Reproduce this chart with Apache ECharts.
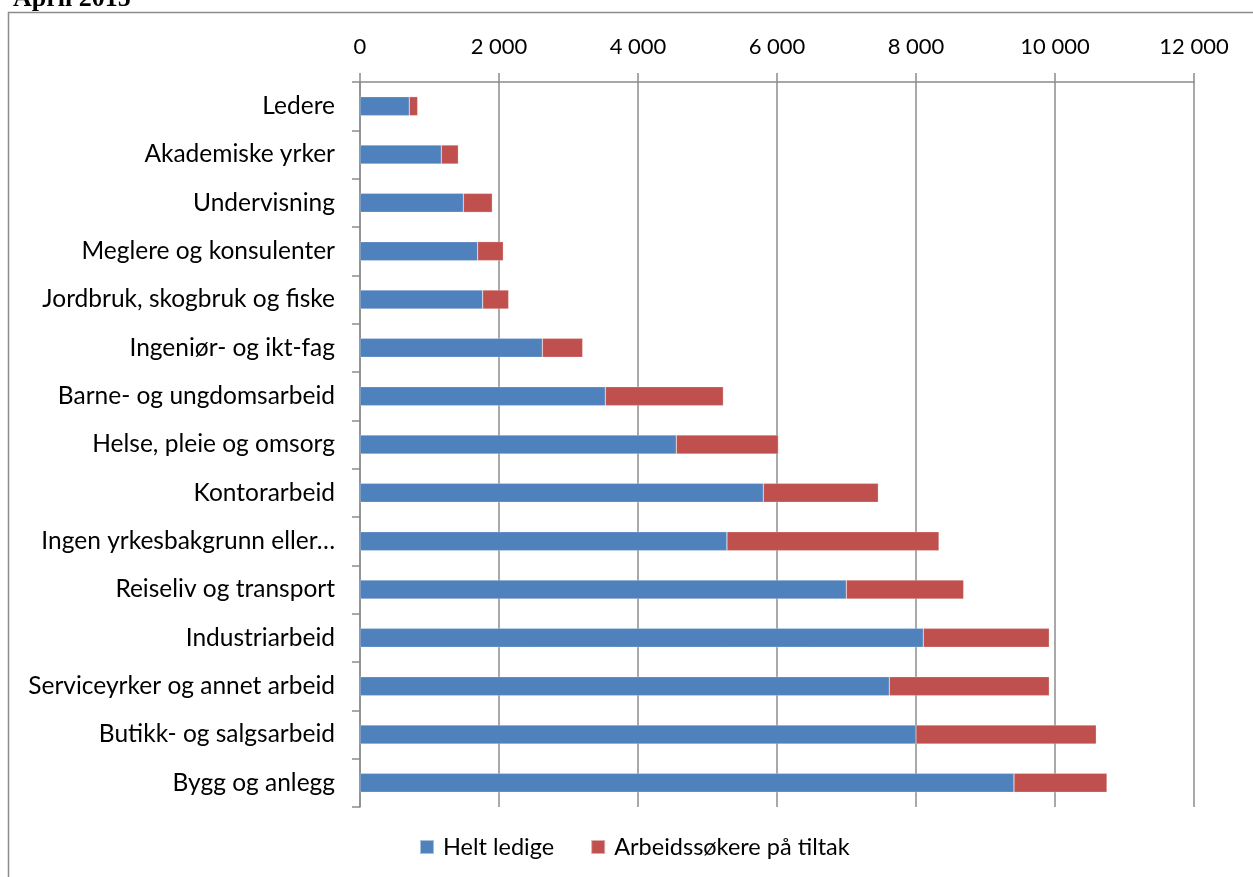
<!DOCTYPE html>
<html>
<head>
<meta charset="utf-8">
<script src="https://cdn.jsdelivr.net/npm/echarts@6/dist/echarts.min.js"></script>
<style>
html,body{margin:0;padding:0;background:#fff;}
#chart{width:1253px;height:877px;}
</style>
</head>
<body>
<div id="chart"></div>
<script>
const categories = [
  "Ledere",
  "Akademiske yrker",
  "Undervisning",
  "Meglere og konsulenter",
  "Jordbruk, skogbruk og fiske",
  "Ingeniør- og ikt-fag",
  "Barne- og ungdomsarbeid",
  "Helse, pleie og omsorg",
  "Kontorarbeid",
  "Ingen yrkesbakgrunn eller uoppgitt",
  "Reiseliv og transport",
  "Industriarbeid",
  "Serviceyrker og annet arbeid",
  "Butikk- og salgsarbeid",
  "Bygg og anlegg"
];
const heltLedige = [709, 1170, 1487, 1693, 1765, 2624, 3530, 4551, 5803, 5280, 6997, 8105, 7616, 8000, 9410];
const paaTiltak  = [121, 245, 417, 369, 374, 580, 1698, 1469, 1655, 3051, 1689, 1813, 2302, 2594, 1338];
const seriesNames = ["Helt ledige", "Arbeidssøkere på tiltak"];
const xTicks = { min: 0, max: 12000, interval: 2000 };

const FONT = "Lato";
const chart = echarts.init(document.getElementById('chart'), null, {renderer: 'canvas'});
const fmtNum = v => String(v).replace(/\B(?=(\d{3})+(?!\d))/g, ' ');
const fmtCat = s => s.length > 30 ? s.slice(0, 25) + '…' : s;

chart.setOption({
  animation: false,
  backgroundColor: '#fff',
  title: {
    text: 'April 2015',
    left: 8,
    top: -19,
    textStyle: {fontFamily: 'Liberation Serif', fontWeight: 'bold', fontSize: 26, color: '#000'}
  },
  graphic: [{
    type: 'rect',
    shape: {x: 8.5, y: 12.5, width: 1270, height: 900},
    style: {fill: 'none', stroke: '#8c8c8c', lineWidth: 1.5},
    silent: true,
    z: -1
  }],
  grid: {left: 360, right: 59, top: 82, bottom: 70, containLabel: false},
  legend: {
    data: seriesNames,
    left: 414,
    top: 830,
    itemWidth: 14,
    itemHeight: 14,
    itemGap: 36,
    icon: 'rect',
    textStyle: {fontFamily: FONT, fontSize: 23.5, color: '#000', padding: [0, 0, 0, 4]}
  },
  xAxis: {
    type: 'value',
    position: 'top',
    min: xTicks.min, max: xTicks.max, interval: xTicks.interval,
    axisLine: {show: true, lineStyle: {color: '#8c8c8c', width: 1.5}},
    axisTick: {show: true, length: 9, lineStyle: {color: '#8c8c8c', width: 1.5}},
    splitLine: {show: true, lineStyle: {color: '#8c8c8c', width: 1.5}},
    axisLabel: {formatter: fmtNum, fontFamily: FONT, fontSize: 22, color: '#000', margin: 24}
  },
  yAxis: {
    type: 'category',
    data: categories,
    inverse: true,
    axisLine: {show: true, lineStyle: {color: '#8c8c8c', width: 1.5}},
    axisTick: {show: true, length: 8, lineStyle: {color: '#8c8c8c', width: 1.5}},
    splitLine: {show: false},
    axisLabel: {formatter: fmtCat, fontFamily: FONT, fontSize: 24.5, color: '#000', margin: 25, interval: 0, overflow: 'none', width: 400}
  },
  series: [
    {
      name: seriesNames[0], type: 'bar', stack: 'total', data: heltLedige,
      barWidth: 19,
      itemStyle: {color: '#4F81BD', borderColor: 'rgba(255,255,255,0.5)', borderWidth: 0.5}
    },
    {
      name: seriesNames[1], type: 'bar', stack: 'total', data: paaTiltak,
      barWidth: 19,
      itemStyle: {color: '#C0504D', borderColor: 'rgba(255,255,255,0.5)', borderWidth: 0.5}
    }
  ]
});
</script>
</body>
</html>
